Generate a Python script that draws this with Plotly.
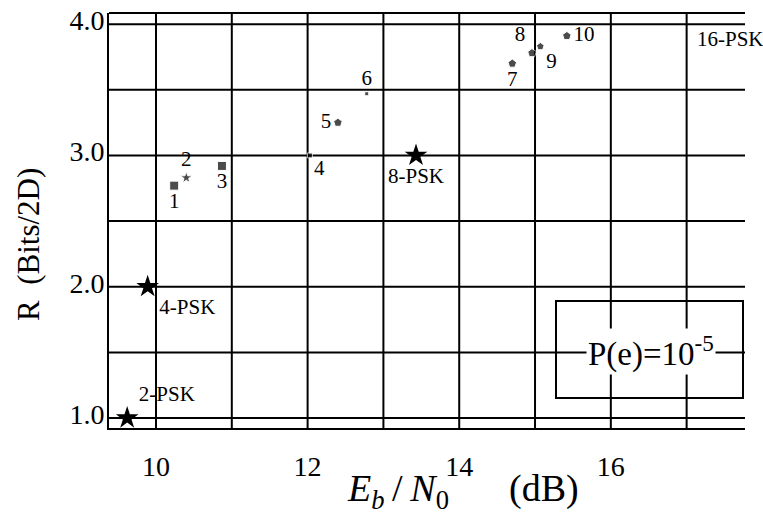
import plotly.graph_objects as go

# Coded modulation points
code_ids = ["1", "2", "3", "4", "5", "6", "7", "8", "9", "10"]
code_ebn0 = [10.24, 10.40, 10.87, 12.03, 12.40, 12.78, 14.70, 14.96, 15.07, 15.42]
code_rate = [2.77, 2.83, 2.92, 3.00, 3.25, 3.47, 3.70, 3.78, 3.83, 3.91]
code_symbols = ["square", "star", "square", "square", "pentagon", "square",
                "pentagon", "pentagon", "pentagon", "pentagon"]
code_sizes = [9, 9, 9, 5, 9, 4, 9, 9, 8, 9]
code_textpos = ["bottom center", "top center", "bottom center", "bottom right",
                "middle left", "top center", "bottom center", "top left",
                "bottom right", "middle right"]

# PSK reference points
psk_names = ["2-PSK", "4-PSK", "8-PSK"]
psk_ebn0 = [9.62, 9.89, 13.43]
psk_rate = [1.0, 2.0, 3.0]
psk_textpos = ["top right", "bottom right", "bottom center"]

label_16psk = "16-PSK"
label_16psk_pos = (17.11, 3.886)
pe_label = "P(e)=10<sup>-5</sup>"

x_ticks = [10, 12, 14, 16]
y_ticks = [1.0, 2.0, 3.0, 4.0]
y_ticktext = ["1.0", "2.0", "3.0", "4.0"]
x_grid = [10, 11, 12, 13, 14, 15, 16, 17]
y_grid = [1.0, 1.5, 2.0, 2.5, 3.0, 3.5, 4.0]

serif = "Liberation Serif, Times New Roman, serif"

L, R, T, B = 109, 18, 13, 87
W, H = 763, 515
PW, PH = W - L - R, H - T - B


def px2paper_x(px):
    return (px - L) / PW


def px2paper_y(py):
    return (H - B - py) / PH


fig = go.Figure()

fig.add_trace(go.Scatter(
    x=code_ebn0, y=code_rate, mode="markers+text",
    text=code_ids, textposition=code_textpos,
    textfont=dict(family=serif, size=21, color="black"),
    marker=dict(symbol=code_symbols, size=code_sizes, color="black"),
    showlegend=False, cliponaxis=False,
))

fig.add_trace(go.Scatter(
    x=psk_ebn0, y=psk_rate, mode="markers+text",
    text=psk_names, textposition=psk_textpos,
    textfont=dict(family=serif, size=21, color="black"),
    marker=dict(symbol="star", size=17, color="black"),
    showlegend=False, cliponaxis=False,
))

shapes = []
for gx in x_grid:
    shapes.append(dict(type="line", xref="x", yref="paper", x0=gx, x1=gx, y0=0, y1=1,
                       line=dict(color="black", width=2), layer="below"))
for gy in y_grid:
    shapes.append(dict(type="line", xref="paper", yref="y", x0=0, x1=1, y0=gy, y1=gy,
                       line=dict(color="black", width=2), layer="below"))
# top frame line
shapes.append(dict(type="line", xref="paper", yref="paper", x0=0, x1=1, y0=1, y1=1,
                   line=dict(color="black", width=2), layer="below"))
# P(e) box
shapes.append(dict(type="rect", xref="paper", yref="paper",
                   x0=px2paper_x(556), x1=px2paper_x(743),
                   y0=px2paper_y(398), y1=px2paper_y(301),
                   line=dict(color="black", width=2), layer="below"))
fig.update_layout(shapes=shapes)

fig.add_annotation(x=label_16psk_pos[0], y=label_16psk_pos[1], xref="x", yref="y",
                   text=label_16psk, xanchor="left", showarrow=False,
                   font=dict(family=serif, size=21, color="black"))
fig.add_annotation(x=px2paper_x(651), y=px2paper_y(351), xref="paper", yref="paper",
                   xanchor="center", yanchor="middle",
                   text=pe_label, showarrow=False, bgcolor="white",
                   font=dict(family=serif, size=33, color="black"))

TS = "\u2009"
fig.add_annotation(x=px2paper_x(345), y=px2paper_y(465), xref="paper", yref="paper",
                   xanchor="left", yanchor="top",
                   text="<i>E</i><sub><i>b</i></sub>" + TS + "/" + TS
                        + "<i>N</i><sub>0</sub>",
                   showarrow=False, font=dict(family=serif, size=38, color="black"))
fig.add_annotation(x=px2paper_x(507), y=px2paper_y(465), xref="paper", yref="paper",
                   xanchor="left", yanchor="top", text="(dB)",
                   showarrow=False, font=dict(family=serif, size=38, color="black"))
fig.add_annotation(x=px2paper_x(29), y=px2paper_y(245), xref="paper", yref="paper",
                   xanchor="center", yanchor="middle",
                   text="R\u2002(Bits/2D)", textangle=-90, showarrow=False,
                   font=dict(family=serif, size=31, color="black"))

fig.update_xaxes(range=[9.38, 17.77], tickvals=x_ticks, ticktext=[str(v) for v in x_ticks],
                 showgrid=False, zeroline=False, showline=True, linecolor="black",
                 linewidth=2, ticks="", ticklabelstandoff=12, automargin=False,
                 tickfont=dict(family=serif, size=28, color="black"))
fig.update_yaxes(range=[0.924, 4.085], tickvals=y_ticks, ticktext=y_ticktext,
                 showgrid=False, zeroline=False, showline=True, linecolor="black",
                 linewidth=2, ticks="", ticklabelstandoff=-3, ticklabelshift=-4,
                 automargin=False,
                 tickfont=dict(family=serif, size=28, color="black"))

fig.update_layout(width=W, height=H, margin=dict(l=L, r=R, t=T, b=B, autoexpand=False),
                  plot_bgcolor="white", paper_bgcolor="white")

fig.write_html("out.html", config={"displayModeBar": False},
               post_script="document.body.style.margin='0';")
